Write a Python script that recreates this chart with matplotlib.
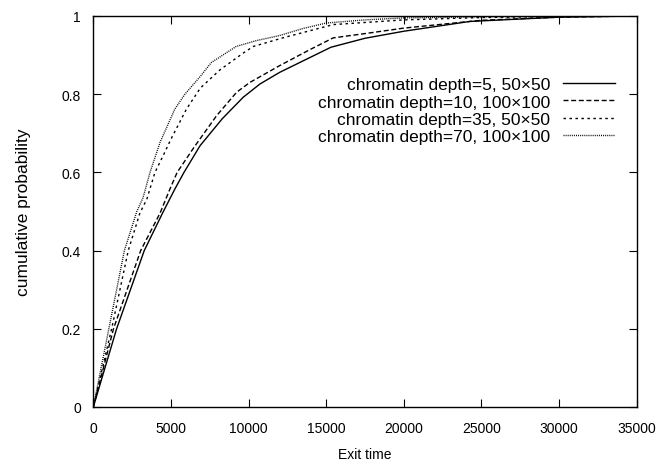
import numpy as np
import matplotlib
matplotlib.use("Agg")
import matplotlib.pyplot as plt

plt.rcParams['font.family'] = ['Liberation Sans', 'DejaVu Sans']
plt.rcParams['font.size'] = 10

# values
t_d5 = [0, 1500, 3280, 4460, 5260, 5840, 6870, 8300, 9650, 10730, 12010,
        15300, 17500, 20000, 24240, 30000, 35000]
p_d5 = [0, 0.2, 0.4, 0.496, 0.558, 0.6, 0.668, 0.737, 0.792, 0.826, 0.856,
        0.92, 0.943, 0.961, 0.986, 0.997, 1.0]

t_d10 = [0, 1300, 3050, 4300, 4940, 5400, 6500, 7940, 9230, 10080, 12000,
         13950, 15450, 17500, 20000, 25000, 30000, 35000]
p_d10 = [0, 0.2, 0.4, 0.496, 0.558, 0.6, 0.665, 0.745, 0.805, 0.83, 0.873,
         0.914, 0.944, 0.955, 0.969, 0.989, 0.997, 1.0]

t_d35 = [0, 1180, 2250, 3000, 3450, 3970, 4500, 5000, 6000, 6900, 8150,
         9650, 10300, 12200, 15450, 20000, 25000, 30000, 35000]
p_d35 = [0, 0.2, 0.4, 0.496, 0.532, 0.6, 0.643, 0.685, 0.762, 0.816, 0.862,
         0.905, 0.922, 0.944, 0.978, 0.99, 0.996, 0.999, 1.0]

t_d70 = [0, 1000, 2000, 2800, 3200, 3650, 4300, 5250, 5900, 6900, 7600,
         9200, 10500, 12000, 13500, 15000, 17500, 20000, 25000, 30000, 35000]
p_d70 = [0, 0.2, 0.4, 0.5, 0.535, 0.6, 0.677, 0.762, 0.8, 0.846, 0.881,
         0.922, 0.937, 0.95, 0.968, 0.982, 0.99, 0.995, 0.998, 0.999, 1.0]

labels = ["chromatin depth=5, 50\u00d750",
          "chromatin depth=10, 100\u00d7100",
          "chromatin depth=35, 50\u00d750",
          "chromatin depth=70, 100\u00d7100"]

xticks = [0, 5000, 10000, 15000, 20000, 25000, 30000, 35000]
yticks = [0, 0.2, 0.4, 0.6, 0.8, 1]

fig = plt.figure(figsize=(6.68, 4.64), dpi=100)
ax = fig.add_axes([0.1397, 0.1207, 0.8135, 0.8427])

lw = 1.0
ax.plot(t_d5, p_d5, color='k', lw=lw, linestyle='-', label=labels[0])
ax.plot(t_d10, p_d10, color='k', lw=lw, linestyle=(0, (3.6, 1.9)), label=labels[1])
ax.plot(t_d35, p_d35, color='k', lw=lw, linestyle=(0, (1.8, 2.5)), label=labels[2])
ax.plot(t_d70, p_d70, color='k', lw=lw, linestyle=(0, (0.7, 0.8)), label=labels[3])

ax.set_xlim(0, 35000)
ax.set_ylim(0, 1)
ax.set_xticks(xticks)
ax.set_xticklabels([str(v) for v in xticks])
ax.set_yticks(yticks)
ax.set_yticklabels([("%g" % v) for v in yticks])
ax.tick_params(direction='in', length=6, width=0.8, top=True, right=True)
ax.tick_params(axis='x', pad=10)
ax.tick_params(axis='y', pad=9)
for s in ax.spines.values():
    s.set_linewidth(1.0)

ax.set_xlabel("Exit time", labelpad=9)
ax.set_ylabel("cumulative probability", labelpad=22, fontsize=12.5)

ax.legend(loc='upper right', bbox_to_anchor=(0.96, 0.844), frameon=False,
          markerfirst=False, handlelength=3.0, handletextpad=0.75,
          labelspacing=0.13, borderpad=0, borderaxespad=0, fontsize=12.5)

fig.savefig("out.png", dpi=100)
